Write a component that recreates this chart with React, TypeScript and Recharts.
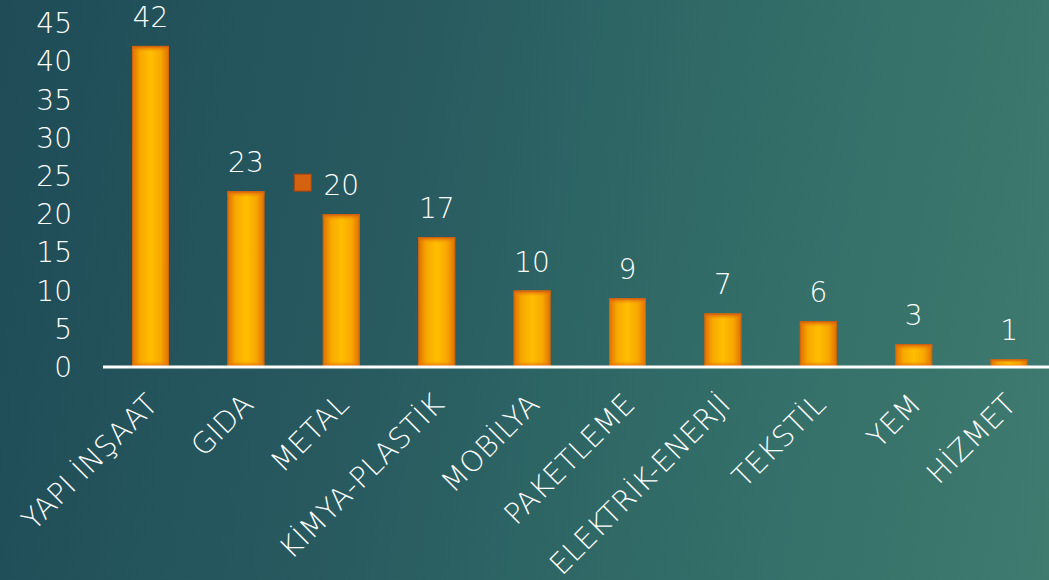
import React from "react";
import { BarChart, Bar, XAxis, YAxis, LabelList } from "recharts";

const categories = [
  "YAPI İNŞAAT",
  "GIDA",
  "METAL",
  "KİMYA-PLASTİK",
  "MOBİLYA",
  "PAKETLEME",
  "ELEKTRİK-ENERJİ",
  "TEKSTİL",
  "YEM",
  "HİZMET",
];
const values = [42, 23, 20, 17, 10, 9, 7, 6, 3, 1];
const yTicks = [0, 5, 10, 15, 20, 25, 30, 35, 40, 45];
const legendKeyCategory = "METAL";

const data = categories.map((name, i) => ({ name, value: values[i] }));

const FONT = "'DejaVu Sans', sans-serif";
const WEIGHT = 200;

const GradBar = (props: any) => {
  const { x, y, width, height } = props;
  if (!height || height <= 0) return null;
  const edge = Math.min(6, height / 2);
  return (
    <g>
      <rect x={x} y={y} width={width} height={height} fill="url(#barH)" />
      <rect x={x} y={y} width={width} height={edge} fill="url(#barTop)" />
      <rect x={x} y={y + height - edge} width={width} height={edge} fill="url(#barBot)" />
      <rect
        x={x + 0.5}
        y={y + 0.5}
        width={width - 1}
        height={height - 1}
        fill="none"
        stroke="#c45f12"
        strokeOpacity={0.6}
        strokeWidth={1}
      />
    </g>
  );
};

const ValueLabel = (props: any) => {
  const { x, y, width, value, index } = props;
  const cx = x + width / 2;
  const by = y - 19;
  const showKey = categories[index] === legendKeyCategory;
  return (
    <g>
      {showKey && (
        <rect
          x={cx - 47}
          y={by - 21}
          width={17}
          height={17}
          fill="#d4620f"
          stroke="#a9400e"
          strokeWidth={1}
        />
      )}
      <text
        x={cx}
        y={by}
        textAnchor="middle"
        fill="#ffffff"
        fontFamily={FONT}
        fontWeight={WEIGHT}
        fontSize={28}
      >
        {value}
      </text>
    </g>
  );
};

const XTick = (props: any) => {
  const { x, y, payload } = props;
  const ax = x + 9;
  const ay = y + 39;
  return (
    <text
      x={ax}
      y={ay}
      textAnchor="end"
      fill="#ffffff"
      fontFamily={FONT}
      fontWeight={WEIGHT}
      fontSize={29}
      letterSpacing={0.2}
      transform={`rotate(-45, ${ax}, ${ay})`}
    >
      {payload.value}
    </text>
  );
};

const YTick = (props: any) => {
  const { x, y, payload } = props;
  return (
    <text
      x={x - 31}
      y={y}
      dy="0.36em"
      textAnchor="end"
      fill="#ffffff"
      fontFamily={FONT}
      fontWeight={WEIGHT}
      fontSize={28}
    >
      {payload.value}
    </text>
  );
};

export default function App() {
  return (
    <div
      style={{
        position: "absolute",
        left: 0,
        top: 0,
        width: 1049,
        height: 580,
        overflow: "hidden",
        background:
          "linear-gradient(100deg, #1f4c57 0%, #27595f 35%, #316b67 65%, #3f7b6f 100%)",
      }}
    >
      <BarChart
        width={1057}
        height={580}
        data={data}
        margin={{ top: 23, right: 0, bottom: 0, left: 0 }}
      >
        <defs>
          <linearGradient id="barH" x1="0" y1="0" x2="1" y2="0">
            <stop offset="0%" stopColor="#e06d00" />
            <stop offset="22%" stopColor="#f7a800" />
            <stop offset="50%" stopColor="#ffbe00" />
            <stop offset="78%" stopColor="#f7a800" />
            <stop offset="100%" stopColor="#e06d00" />
          </linearGradient>
          <linearGradient id="barTop" x1="0" y1="0" x2="0" y2="1">
            <stop offset="0%" stopColor="#d65a14" stopOpacity={1} />
            <stop offset="100%" stopColor="#f08a00" stopOpacity={0} />
          </linearGradient>
          <linearGradient id="barBot" x1="0" y1="1" x2="0" y2="0">
            <stop offset="0%" stopColor="#d65a14" stopOpacity={0.9} />
            <stop offset="100%" stopColor="#f08a00" stopOpacity={0} />
          </linearGradient>
        </defs>
        <YAxis
          width={103}
          domain={[0, 45]}
          ticks={yTicks}
          axisLine={false}
          tickLine={false}
          tickSize={0}
          tickMargin={0}
          tick={<YTick />}
          interval={0}
        />
        <XAxis
          dataKey="name"
          height={213}
          axisLine={{ stroke: "#ffffff", strokeWidth: 3 }}
          tickLine={false}
          tickSize={0}
          tickMargin={0}
          interval={0}
          tick={<XTick />}
        />
        <Bar dataKey="value" barSize={37} shape={<GradBar />} isAnimationActive={false}>
          <LabelList dataKey="value" content={<ValueLabel />} />
        </Bar>
      </BarChart>
    </div>
  );
}
